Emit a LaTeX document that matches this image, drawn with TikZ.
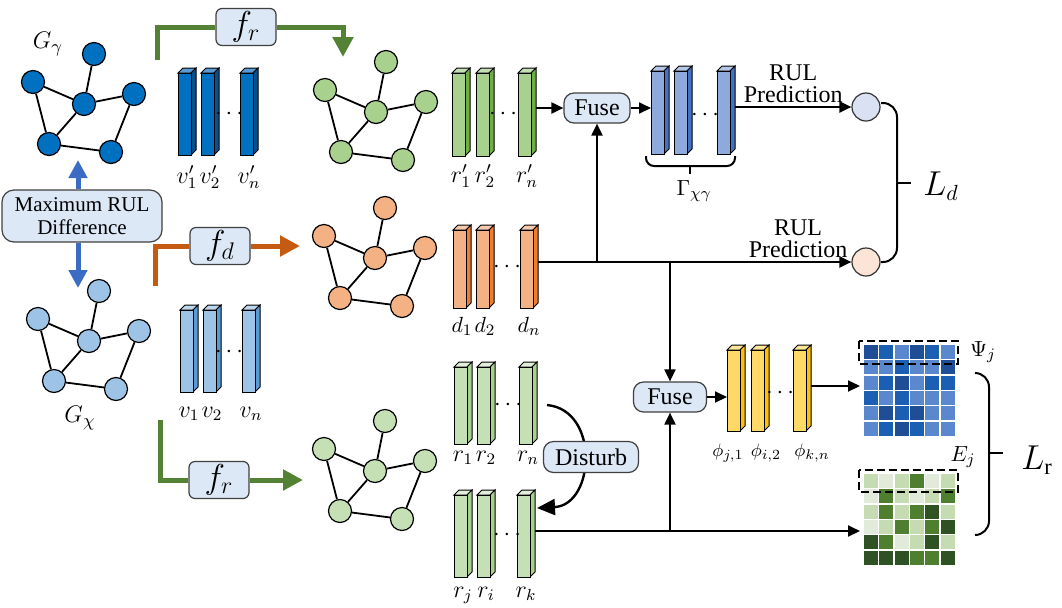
\documentclass[tikz,border=0pt]{standalone}
\usepackage{fontspec}
\setmainfont{Liberation Serif}
\usetikzlibrary{arrows.meta, positioning}

\definecolor{boxBlue}{HTML}{DCE8F5}
\definecolor{lineGreen}{HTML}{548235}
\definecolor{lineOrange}{HTML}{C55A11}
\definecolor{arrowBlue}{HTML}{3A6CC4}
\definecolor{gBlue}{HTML}{0070C0}
\definecolor{gGreen}{HTML}{A9D18E}
\definecolor{gOrange}{HTML}{F4B183}
\definecolor{gLight}{HTML}{9DC3E6}
\definecolor{gPale}{HTML}{C5E0B4}
\definecolor{vpFront}{HTML}{0070C0}\definecolor{vpSide}{HTML}{0B4F8A}\definecolor{vpTop}{HTML}{5B9BD5}
\definecolor{rpFront}{HTML}{A9D18E}\definecolor{rpSide}{HTML}{70AD47}\definecolor{rpTop}{HTML}{C5E0B4}
\definecolor{gmFront}{HTML}{8EA9DB}\definecolor{gmSide}{HTML}{4472C4}\definecolor{gmTop}{HTML}{B4C7E7}
\definecolor{ddFront}{HTML}{F4B183}\definecolor{ddSide}{HTML}{ED7D31}\definecolor{ddTop}{HTML}{F8CBAD}
\definecolor{vvFront}{HTML}{9DC3E6}\definecolor{vvSide}{HTML}{5B9BD5}\definecolor{vvTop}{HTML}{BDD7EE}
\definecolor{rrFront}{HTML}{C5E0B4}\definecolor{rrSide}{HTML}{A9D18E}\definecolor{rrTop}{HTML}{E2F0D9}
\definecolor{phFront}{HTML}{FFD966}\definecolor{phSide}{HTML}{FFC000}\definecolor{phTop}{HTML}{FFE699}
\definecolor{predBlue}{HTML}{D9E1F2}
\definecolor{predPeach}{HTML}{FCE4D6}
\definecolor{mBlueD}{HTML}{1F4E96}
\definecolor{mBlueM}{HTML}{1A5FB4}
\definecolor{mBlueL}{HTML}{5B87CE}
\definecolor{mGreenW}{HTML}{E2EBD9}
\definecolor{mGreenL}{HTML}{C5DCB3}
\definecolor{mGreenM}{HTML}{4E7F2F}
\definecolor{mGreenD}{HTML}{2F5225}

% 立体特征条: 名称, 左x, 顶y, 底y, 颜色前缀
\newcommand{\featBar}[5]{%
    \filldraw[fill=#5Top, line width=0.5pt] (#2,#3) -- ++(5,-5) -- ++(13,0) -- ++(-5,5) -- cycle;
    \filldraw[fill=#5Side, line width=0.5pt] (#2+13,#3) -- ++(5,-5) -- ++(0,#4-#3) -- ++(-5,5) -- cycle;
    \filldraw[fill=#5Front, line width=0.5pt] (#2,#3) rectangle (#2+13,#4);
    \coordinate (#1-w) at (#2,{(#3+#4)/2});
    \coordinate (#1-e) at (#2+18,{(#3+#4)/2});
}

\begin{document}
\begin{tikzpicture}[
    x=0.5pt, y=-0.5pt,
    rulGraphNodeStyle/.style={circle, draw=black, line width=0.6pt, minimum size=11.5pt, inner sep=0pt},
    rulEdgeStyle/.style={line width=0.9pt},
    rulFuncBoxStyle/.style={draw=black!75, fill=boxBlue, line width=0.6pt, rounded corners=3pt,
        minimum width=30pt, minimum height=18.5pt, inner sep=0pt, font=\fontsize{17}{17}\selectfont},
    rulTextBoxStyle/.style={draw=black!75, fill=boxBlue, line width=0.6pt, rounded corners=5pt,
        inner sep=0pt, font=\fontsize{12}{12}\selectfont},
    rulGreenStyle/.style={line width=2.5pt, draw=lineGreen},
    rulOrangeStyle/.style={line width=2.5pt, draw=lineOrange},
    rulBlueStyle/.style={line width=2.5pt, draw=arrowBlue, -{Triangle[length=9pt, width=9pt]}},
    rulFlowStyle/.style={line width=1pt, ->},
    rulLabelStyle/.style={anchor=base, inner sep=0pt, font=\fontsize{12}{12}\selectfont},
    rulDotsStyle/.style={inner sep=0pt, font=\fontsize{12}{12}\selectfont},
    rulBraceStyle/.style={line width=1pt, rounded corners=7pt},
    rulPredStyle/.style={circle, draw=black!80, line width=0.6pt, minimum size=14pt, inner sep=0pt},
    rulPredTextStyle/.style={above, align=center, inner sep=1.5pt, font=\fontsize{12}{11}\selectfont},
    >={Triangle[length=6pt, width=5.5pt]}
]
    \useasboundingbox (0,0) rectangle (1062,607);

    % --- 图 ---
    \foreach \gn/\gx/\gy/\gc in {gy/33/82/gBlue, gr/325/90/gGreen, gd/324/236/gOrange, gx/38/319/gLight, gk/324/449/gPale} {
        \begin{scope}[shift={(\gx,\gy)}]
            \foreach \pn/\px/\py in {l/0/0, t/61/-28, c/51/22, r/101/12, bl/16/62, br/78/70}
                \node[rulGraphNodeStyle, fill=\gc] (\gn-\pn) at (\px,\py) {};
            \foreach \ea/\eb in {l/c, t/c, c/r, c/bl, l/bl, bl/br, br/r}
                \draw[rulEdgeStyle] (\gn-\ea) -- (\gn-\eb);
        \end{scope}
    }
    \node[font=\fontsize{13}{13}\selectfont] (gyLbl) at (48,44) {$G_\gamma$};
    \node[font=\fontsize{13}{13}\selectfont] (gxLbl) at (80,418) {$G_\chi$};

    % 最大 RUL 差异
    \node[rulTextBoxStyle, rounded corners=6pt, align=center, minimum width=80pt, minimum height=26pt,
        font=\fontsize{10.5}{11.5}\selectfont] (maxRul) at (82,216) {Maximum RUL\\Difference};
    \coordinate (gyTip) at (78,160);
    \coordinate (gxTip) at (78,288);
    \draw[rulBlueStyle] (maxRul.north -| gyTip) -- (gyTip);
    \draw[rulBlueStyle] (maxRul.south -| gxTip) -- (gxTip);

    % 映射 f_r, f_d
    \node[rulFuncBoxStyle] (frTop) at (246,27) {$f_r$};
    \coordinate (frTopStart) at (157,60);
    \coordinate (frTopTip) at (343,57);
    \draw[rulGreenStyle] (frTopStart) |- (frTop.west);
    \draw[rulGreenStyle, -{Triangle[length=10pt, width=10pt]}] (frTop.east) -| (frTopTip);

    \node[rulFuncBoxStyle] (fd) at (220,246) {$f_d$};
    \coordinate (fdStart) at (155,286);
    \coordinate (fdTip) at (300,246);
    \draw[rulOrangeStyle] (fdStart) |- (fd.west);
    \draw[rulOrangeStyle, -{Triangle[length=10pt, width=10pt]}] (fd.east) -- (fdTip);

    \node[rulFuncBoxStyle] (frBot) at (219,480) {$f_r$};
    \coordinate (frBotStart) at (160,420);
    \coordinate (frBotTip) at (303,480);
    \draw[rulGreenStyle] (frBotStart) |- (frBot.west);
    \draw[rulGreenStyle, -{Triangle[length=10pt, width=10pt]}] (frBot.east) -- (frBotTip);

    % --- 特征条 ---
    \foreach \bx/\bs [count=\bi] in {178/1, 201/2, 240/n} {
        \featBar{vp\bi}{\bx}{73}{155}{vp}
        \node[rulLabelStyle] (vpLbl\bi) at (\bx+9,183) {$v'_{\bs}$};
    }
    \node[rulDotsStyle] (vpDots) at (229,114) {$\cdots$};

    \foreach \bx/\bs [count=\bi] in {452/1, 476/2, 518/n} {
        \featBar{rp\bi}{\bx}{73}{156}{rp}
        \node[rulLabelStyle] (rpLbl\bi) at (\bx+9,182) {$r'_{\bs}$};
    }
    \node[rulDotsStyle] (rpDots) at (503,114) {$\cdots$};

    \foreach \bx [count=\bi] in {651, 674, 717} {
        \featBar{gm\bi}{\bx}{71}{154}{gm}
    }
    \node[rulDotsStyle] (gmDots) at (705,115) {$\cdots$};

    \foreach \bx/\bs [count=\bi] in {453/1, 476/2, 520/n} {
        \featBar{dd\bi}{\bx}{230}{308}{dd}
        \node[rulLabelStyle, font=\fontsize{11}{11}\selectfont] (ddLbl\bi) at (\bx+9,332) {$d_{\bs}$};
    }
    \node[rulDotsStyle] (ddDots) at (507,267) {$\cdots$};

    \foreach \bx/\bs [count=\bi] in {180/1, 203/2, 242/n} {
        \featBar{vv\bi}{\bx}{310}{392}{vv}
        \node[rulLabelStyle] (vvLbl\bi) at (\bx+9,417) {$v_{\bs}$};
    }
    \node[rulDotsStyle] (vvDots) at (229,352) {$\cdots$};

    \foreach \bx/\bs [count=\bi] in {454/1, 477/2, 519/n} {
        \featBar{rn\bi}{\bx}{367}{444}{rr}
        \node[rulLabelStyle] (rnLbl\bi) at (\bx+9,461) {$r_{\bs}$};
    }
    \node[rulDotsStyle] (rnDots) at (508,405) {$\cdots$};

    \foreach \bx/\bs [count=\bi] in {454/j, 477/i, 517/k} {
        \featBar{rk\bi}{\bx}{495}{577}{rr}
        \node[rulLabelStyle] (rkLbl\bi) at (\bx+9,597) {$r_{\bs}$};
    }
    \node[rulDotsStyle] (rkDots) at (507,535) {$\cdots$};

    \foreach \bx [count=\bi] in {727, 751, 793} {
        \featBar{ph\bi}{\bx}{350}{431}{ph}
    }
    \node[rulDotsStyle] (phDots) at (780,393) {$\cdots$};
    \node[rulLabelStyle, font=\fontsize{9.5}{9.5}\selectfont] (phLbl1) at (728,456) {$\phi_{j,1}$};
    \node[rulLabelStyle, font=\fontsize{9.5}{9.5}\selectfont] (phLbl2) at (766,456) {$\phi_{i,2}$};
    \node[rulLabelStyle, font=\fontsize{9.5}{9.5}\selectfont] (phLbl3) at (812,456) {$\phi_{k,n}$};

    % Γ 括号
    \draw[line width=1pt, rounded corners=4pt] (646,156) |- (735,166) -- (735,156);
    \draw[line width=1pt] (690,166) -- (690,174);
    \node[font=\fontsize{11}{11}\selectfont] (gmLbl) at (694,191) {$\Gamma_{\chi\gamma}$};

    % --- 融合与预测 ---
    \node[rulTextBoxStyle, minimum width=33pt, minimum height=15pt] (fuseA) at (597,108) {Fuse};
    \node[rulTextBoxStyle, minimum width=36.5pt, minimum height=15pt] (fuseB) at (670,397) {Fuse};
    \node[rulPredStyle, fill=predBlue] (predA) at (866,107) {};
    \node[rulPredStyle, fill=predPeach] (predB) at (866,262) {};

    \draw[rulFlowStyle] (rp3-e |- fuseA.west) -- (fuseA.west);
    \draw[rulFlowStyle] (fuseA.east) -- (gm1-w |- fuseA.east);
    \draw[rulFlowStyle] (gm3-e |- predA.west) -- node[rulPredTextStyle] {RUL\\Prediction} (predA.west);
    \draw[rulFlowStyle] (dd3-e |- predB.west) -- node[rulPredTextStyle, pos=0.83] {RUL\\Prediction} (predB.west);
    \draw[rulFlowStyle] (fuseA.south |- predB.west) -- (fuseA.south);
    \draw[rulFlowStyle] (fuseB.north |- predB.west) -- (fuseB.north);

    % 扰动
    \coordinate (dsStart) at (547,405);
    \coordinate (dsEnd) at (537,508);
    \draw[line width=1.2pt, -{Triangle[length=9pt, width=8pt]}] (dsStart) .. controls (600,410) and (595,505) .. (dsEnd);
    \node[rulTextBoxStyle, minimum width=47.5pt, minimum height=15.5pt] (disturb) at (591,457) {Disturb};

    % --- 矩阵 ---
    \coordinate (bmatW) at (860,386);
    \coordinate (gmatW) at (860,531);
    \draw[rulFlowStyle] (rk3-e |- gmatW) -- (gmatW);
    \draw[rulFlowStyle] (fuseB.south |- gmatW) -- (fuseB.south);
    \draw[rulFlowStyle] (fuseB.east) -- (ph1-w |- fuseB.east);
    \draw[rulFlowStyle] (ph3-e |- bmatW) -- (bmatW);

    \foreach \mrow [count=\ri] in {{D,M,L,D,M,L},{L,L,M,L,L,D},{L,M,D,L,M,M},{M,L,M,L,L,L},{L,D,M,D,L,L},{L,M,D,M,L,L}} {
        \foreach \mc [count=\ci] in \mrow
            \filldraw[fill=mBlue\mc, draw=white, line width=0.7pt] ({863+(\ci-1)*15.4},{344+(\ri-1)*15.4}) rectangle ++(15.4,15.4);
    }
    \foreach \mrow [count=\ri] in {{L,W,L,M,W,L},{W,M,L,W,L,M},{L,M,L,M,D,L},{W,L,M,L,M,D},{D,M,W,L,D,L},{D,D,D,M,M,D}} {
        \foreach \mc [count=\ci] in \mrow
            \filldraw[fill=mGreen\mc, draw=white, line width=0.7pt] ({863+(\ci-1)*15.4},{473+(\ri-1)*15.4}) rectangle ++(15.4,15.4);
    }
    \draw[line width=0.9pt, dash pattern=on 4pt off 2pt] (859,341) rectangle (958,364);
    \draw[line width=0.9pt, dash pattern=on 4pt off 2pt] (859,470) rectangle (958,492);
    \node[font=\fontsize{11}{11}\selectfont] (psiLbl) at (983,352) {$\Psi_j$};
    \node[font=\fontsize{11}{11}\selectfont] (eLbl) at (963,457) {$E_j$};

    % 损失
    \draw[rulBraceStyle] (881,103) -| (897,262) -- (881,262);
    \draw[line width=1pt] (897,183) -- (911,183);
    \node[font=\fontsize{16}{16}\selectfont] (ldLbl) at (941,186) {$L_d$};

    \draw[rulBraceStyle] (975,373) -| (989,535) -- (975,535);
    \draw[line width=1pt] (989,453) -- (1003,453);
    \node[font=\fontsize{16}{16}\selectfont] (lrLbl) at (1037,460) {$L_{\mathrm{r}}$};
\end{tikzpicture}
\end{document}
